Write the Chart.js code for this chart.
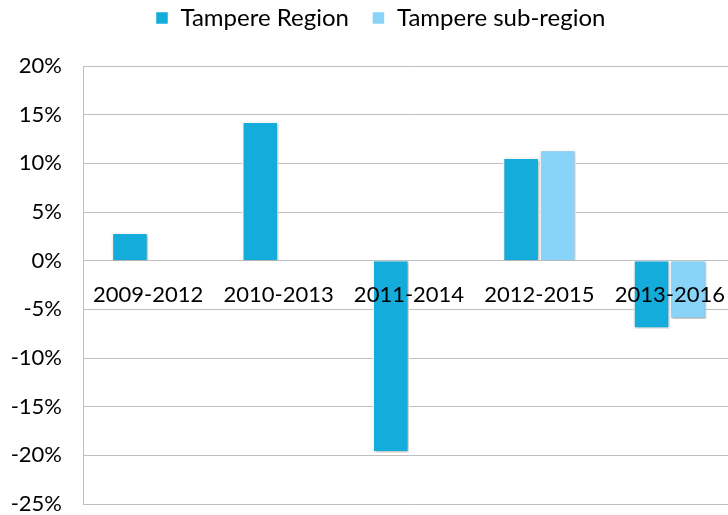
<!DOCTYPE html>
<html>
<head>
<meta charset="utf-8">
<script src="https://cdn.jsdelivr.net/npm/chart.js@4"></script>
<style>
  html, body { margin: 0; padding: 0; background: #fff; overflow: hidden; }
  #wrap { width: 762px; height: 515px; }
</style>
</head>
<body>
<div id="wrap"><canvas id="chart"></canvas></div>
<script>
const categories = ['2009-2012', '2010-2013', '2011-2014', '2012-2015', '2013-2016'];
const regionValues = [2.9, 14.3, -19.7, 10.6, -7.0];
const subRegionValues = [null, null, null, 11.4, -6.0];
const yTicks = [-25, -20, -15, -10, -5, 0, 5, 10, 15, 20];

const FONT = 'Lato';

// legend spacing, shadows behind the bars, category labels on the zero line
const barExtras = {
  id: 'barExtras',
  beforeLayout(chart) {
    const lg = chart.legend;
    if (lg && !lg._patched) {
      const fit = lg.fit;
      lg.fit = function () {
        fit.call(this);
        this.height = 83;
      };
      lg._patched = true;
    }
  },
  afterLayout(chart) {
    const lg = chart.legend;
    lg.left += 13;
    lg.right += 13;
  },
  beforeDatasetsDraw(chart) {
    const ctx = chart.ctx;
    ctx.save();
    ctx.shadowColor = 'rgba(0,0,0,0.35)';
    ctx.shadowBlur = 3;
    ctx.shadowOffsetX = 1;
    ctx.shadowOffsetY = 1;
  },
  afterDatasetsDraw(chart) {
    const ctx = chart.ctx;
    ctx.restore();
    const x = chart.scales.x, y = chart.scales.y;
    const y0 = y.getPixelForValue(0);
    ctx.save();
    ctx.font = '22px ' + FONT;
    ctx.fillStyle = '#000';
    ctx.textAlign = 'center';
    ctx.textBaseline = 'top';
    categories.forEach((c, i) => {
      ctx.fillText(c, x.getPixelForTick(i), y0 + 23);
    });
    ctx.restore();
  }
};

const ctx = document.getElementById('chart').getContext('2d');
new Chart(ctx, {
  type: 'bar',
  data: {
    labels: categories,
    datasets: [{
      label: 'Tampere Region',
      data: regionValues,
      backgroundColor: '#14acdb',
      borderColor: '#ffffff',
      borderWidth: 1.5
    }, {
      label: 'Tampere sub-region',
      data: subRegionValues,
      backgroundColor: '#87d4f8',
      borderColor: '#ffffff',
      borderWidth: 1.5
    }]
  },
  options: {
    responsive: true,
    maintainAspectRatio: false,
    animation: false,
    categoryPercentage: 0.56,
    barPercentage: 1.0,
    layout: { padding: { top: -17, right: 27, bottom: 0, left: 0 } },
    plugins: {
      tooltip: { enabled: false },
      legend: {
        position: 'top',
        labels: {
          font: { family: FONT, size: 24 },
          color: '#000',
          boxWidth: 13,
          boxHeight: 13,
          padding: 23,
          useBorderRadius: false
        }
      }
    },
    scales: {
      x: {
        display: false
      },
      y: {
        min: -25,
        max: 20,
        afterBuildTicks(scale) {
          scale.ticks = yTicks.map(v => ({ value: v }));
        },
        afterFit(scale) {
          scale.width = 83;
        },
        grid: {
          color: '#bfbfbf',
          lineWidth: 1,
          drawTicks: true,
          tickLength: 21,
          tickColor: 'rgba(0,0,0,0)'
        },
        border: { display: true, color: '#bfbfbf' },
        ticks: {
          font: { family: FONT, size: 22, lineHeight: 1 },
          color: '#000',
          padding: 0,
          callback: v => v + '%'
        }
      }
    }
  },
  plugins: [barExtras]
});
</script>
</body>
</html>
